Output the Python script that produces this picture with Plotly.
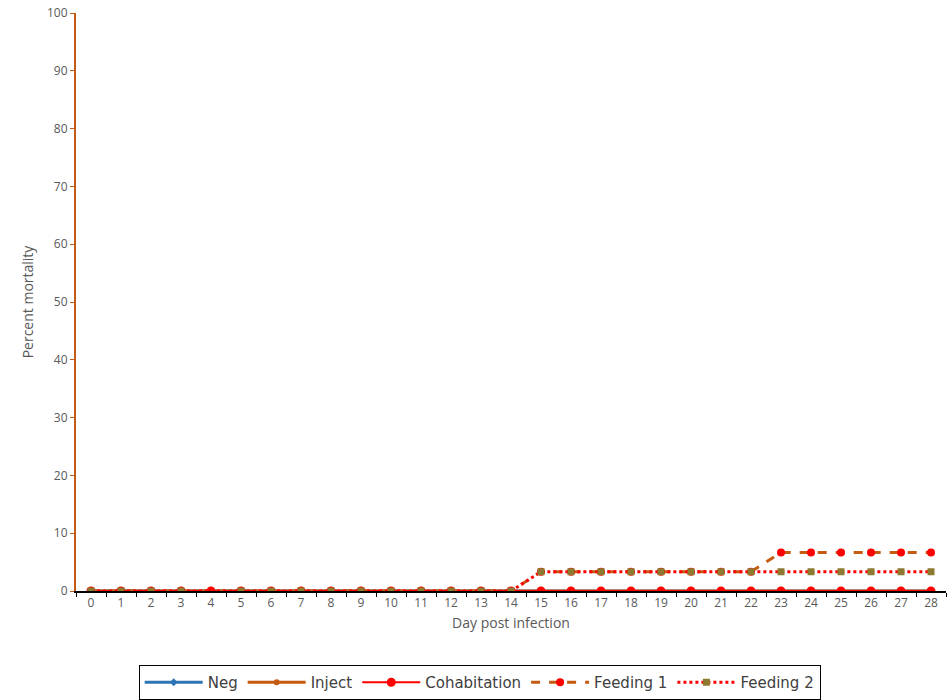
import plotly.graph_objects as go

days = list(range(0, 29))
day_labels = [str(d) for d in days]
neg = [0] * 29
inject = [0] * 29
cohabitation = [0] * 29
feeding1 = [0] * 15 + [3.33] * 8 + [6.67] * 6
feeding2 = [0] * 15 + [3.33] * 14
feeding1[4] = None
feeding2[4] = None
yticks = list(range(0, 101, 10))

fig = go.Figure()
fig.add_trace(go.Scatter(x=day_labels, y=neg, name="Neg", mode="lines+markers",
                         line=dict(color="#2E75B6", width=3),
                         marker=dict(symbol="diamond", size=6, color="#2E75B6")))
fig.add_trace(go.Scatter(x=day_labels, y=inject, name="Inject", mode="lines+markers",
                         line=dict(color="#C55A11", width=3),
                         marker=dict(symbol="circle", size=6, color="#C55A11")))
fig.add_trace(go.Scatter(x=day_labels, y=cohabitation, name="Cohabitation", mode="lines+markers",
                         line=dict(color="#FF0000", width=2),
                         marker=dict(symbol="circle", size=9, color="#FF0000")))
fig.add_trace(go.Scatter(x=day_labels, y=feeding1, name="Feeding 1", mode="lines+markers",
                         connectgaps=True,
                         line=dict(color="#C55A11", width=3, dash="dash"),
                         marker=dict(symbol="circle", size=8, color="#FF0000")))
fig.add_trace(go.Scatter(x=day_labels, y=feeding2, name="Feeding 2", mode="lines+markers",
                         connectgaps=True,
                         line=dict(color="#FF0000", width=3, dash="dot"),
                         marker=dict(symbol="square", size=7, color="#8C7A30")))

font = "Open Sans, Lato, sans-serif"
fig.update_layout(
    width=947, height=700,
    margin=dict(l=76, r=1, t=13, b=109, autoexpand=False),
    plot_bgcolor="white", paper_bgcolor="white",
    font=dict(family=font, size=12, color="#595959"),
    showlegend=True,
    legend=dict(orientation="h", x=0.464, xanchor="center", y=-0.128, yanchor="top",
                bordercolor="black", borderwidth=1, bgcolor="white",
                font=dict(family="DejaVu Sans, Open Sans, sans-serif", size=15, color="#404040"),
                itemwidth=58, tracegroupgap=0),
    xaxis=dict(type="category", range=[-0.5, 28.5], showline=True, linecolor="black",
               linewidth=1.5, ticks="outside", tickson="boundaries", ticklen=4,
               tickcolor="black", showgrid=False, zeroline=False, automargin=False,
               tickfont=dict(size=12, color="#595959"),
               title=dict(text="Day post infection", font=dict(size=14, color="#595959"),
                          standoff=8)),
    yaxis=dict(range=[0, 100], tickvals=yticks, showline=True, linecolor="#C55A11",
               linewidth=2, ticks="outside", ticklen=4, tickcolor="#C55A11",
               showgrid=False, zeroline=False, automargin=False,
               tickfont=dict(size=12, color="#595959"),
               title=dict(text="Percent mortality", font=dict(size=14, color="#595959"),
                          standoff=10)),
)
fig.write_html("out.html", config={"displayModeBar": False},
               post_script="document.body.style.margin='0';")
